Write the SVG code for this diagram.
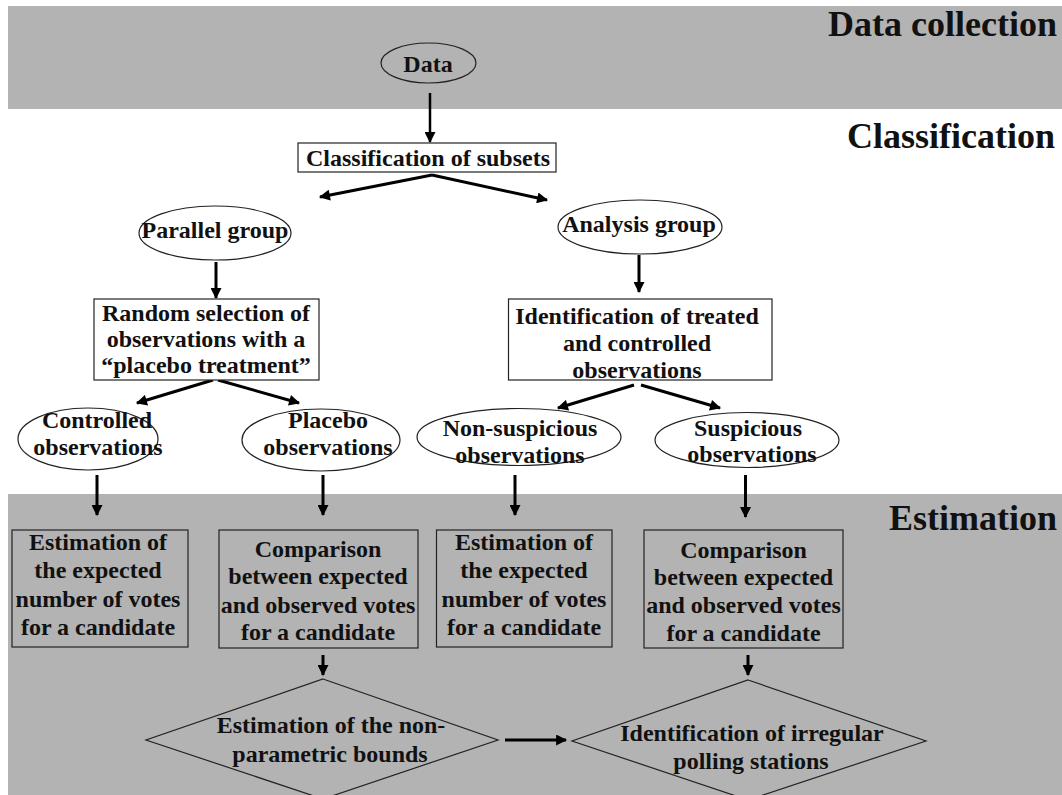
<svg xmlns="http://www.w3.org/2000/svg" width="1062" height="795" viewBox="0 0 1062 795">
<style>
  .band { fill: #b3b3b3; }
  .t { font-family: "Liberation Serif", "Times New Roman", serif; font-weight: bold; font-size: 24px; fill: #111; text-anchor: middle; }
  .h { font-family: "Liberation Serif", "Times New Roman", serif; font-weight: bold; font-size: 36px; fill: #111; text-anchor: end; }
  .box { fill: #ffffff; stroke: #222; stroke-width: 1.2; }
  .gbox { fill: none; stroke: #222; stroke-width: 1.2; }
  .ell { fill: #ffffff; stroke: #222; stroke-width: 1.2; }
  .dia { fill: none; stroke: #222; stroke-width: 1.2; }
  .c { stroke: #000; stroke-width: 3; fill: none; marker-end: url(#ah); }
</style>
<defs>
  <marker id="ah" viewBox="0 0 10 10" refX="9" refY="5" markerWidth="12" markerHeight="11" markerUnits="userSpaceOnUse" orient="auto">
    <path d="M0,0 L10,5 L0,10 z" fill="#000"/>
  </marker>
</defs>

<rect width="1062" height="795" fill="#ffffff"/>
<g id="bands">
  <rect class="band" x="8" y="6" width="1054" height="103"/>
  <rect class="band" x="8" y="494" width="1054" height="301"/>
</g>

<g id="headings">
  <text class="h" x="1057" y="36">Data collection</text>
  <text class="h" x="1055" y="148">Classification</text>
  <text class="h" x="1057" y="530">Estimation</text>
</g>

<g id="connectors">
  <line class="c" x1="430" y1="93" x2="430" y2="142" style="stroke-width:2.5"/>
  <line class="c" x1="432" y1="175" x2="320" y2="197"/>
  <line class="c" x1="432" y1="175" x2="547" y2="200"/>
  <line class="c" x1="216" y1="262" x2="216" y2="298"/>
  <line class="c" x1="639" y1="255" x2="639" y2="292"/>
  <line class="c" x1="213" y1="380" x2="137" y2="403"/>
  <line class="c" x1="218" y1="380" x2="299" y2="403"/>
  <line class="c" x1="634" y1="385" x2="558" y2="408"/>
  <line class="c" x1="641" y1="385" x2="720" y2="408"/>
  <line class="c" x1="97" y1="475" x2="97" y2="515"/>
  <line class="c" x1="323" y1="475" x2="323" y2="515"/>
  <line class="c" x1="515" y1="475" x2="515" y2="515"/>
  <line class="c" x1="745.5" y1="475" x2="745.5" y2="517"/>
  <line class="c" x1="323" y1="655" x2="323" y2="675"/>
  <line class="c" x1="748" y1="655" x2="748" y2="675"/>
  <line class="c" x1="505" y1="740" x2="566" y2="740"/>
</g>

<g id="data">
  <ellipse class="ell" cx="428.5" cy="63" rx="47.5" ry="20" style="fill:none"/>
  <text class="t" x="428" y="72">Data</text>
</g>

<g id="classification-of-subsets">
  <rect class="box" x="298" y="143" width="258" height="29"/>
  <text class="t" x="428" y="166">Classification of subsets</text>
</g>

<g id="parallel-group">
  <ellipse class="ell" cx="215" cy="233" rx="76" ry="27"/>
  <text class="t" x="215" y="238">Parallel group</text>
</g>

<g id="analysis-group">
  <ellipse class="ell" cx="640" cy="227" rx="82" ry="27"/>
  <text class="t" x="639" y="232">Analysis group</text>
</g>

<g id="random-selection">
  <rect class="box" x="94" y="299" width="225" height="81"/>
  <text class="t" x="206" y="321">Random selection of</text>
  <text class="t" x="206" y="347">observations with a</text>
  <text class="t" x="206" y="373">“placebo treatment”</text>
</g>

<g id="identification-treated">
  <rect class="box" x="508.5" y="299" width="263.5" height="81"/>
  <text class="t" x="637" y="324">Identification of treated</text>
  <text class="t" x="637" y="351">and controlled</text>
  <text class="t" x="637" y="378">observations</text>
</g>

<g id="controlled-observations">
  <ellipse class="ell" cx="88" cy="439" rx="70" ry="31"/>
  <text class="t" x="97" y="428">Controlled</text>
  <text class="t" x="98" y="455">observations</text>
</g>

<g id="placebo-observations">
  <ellipse class="ell" cx="321" cy="440" rx="79" ry="31"/>
  <text class="t" x="328" y="428">Placebo</text>
  <text class="t" x="328" y="455">observations</text>
</g>

<g id="non-suspicious-observations">
  <ellipse class="ell" cx="519" cy="437" rx="102" ry="28.5"/>
  <text class="t" x="520" y="436">Non-suspicious</text>
  <text class="t" x="520" y="463">observations</text>
</g>

<g id="suspicious-observations">
  <ellipse class="ell" cx="747" cy="440" rx="92" ry="27.5"/>
  <text class="t" x="748" y="436">Suspicious</text>
  <text class="t" x="752" y="462">observations</text>
</g>

<g id="estimation-controlled">
  <rect class="gbox" x="12" y="530" width="176" height="117"/>
  <text class="t" x="98" y="550">Estimation of</text>
  <text class="t" x="98" y="578">the expected</text>
  <text class="t" x="98" y="607">number of votes</text>
  <text class="t" x="98" y="635">for a candidate</text>
</g>

<g id="comparison-placebo">
  <rect class="gbox" x="219" y="530" width="199" height="118"/>
  <text class="t" x="318" y="557">Comparison</text>
  <text class="t" x="318" y="584">between expected</text>
  <text class="t" x="318" y="613">and observed votes</text>
  <text class="t" x="318" y="640">for a candidate</text>
</g>

<g id="estimation-non-suspicious">
  <rect class="gbox" x="436.5" y="530" width="175.5" height="117"/>
  <text class="t" x="524" y="550">Estimation of</text>
  <text class="t" x="524" y="578">the expected</text>
  <text class="t" x="524" y="607">number of votes</text>
  <text class="t" x="524" y="635">for a candidate</text>
</g>

<g id="comparison-suspicious">
  <rect class="gbox" x="644" y="530" width="199" height="118"/>
  <text class="t" x="743.5" y="558">Comparison</text>
  <text class="t" x="743.5" y="585">between expected</text>
  <text class="t" x="743.5" y="613">and observed votes</text>
  <text class="t" x="743.5" y="641">for a candidate</text>
</g>

<g id="nonparametric-bounds">
  <polygon class="dia" points="323,679 498,740 323,799 146,740"/>
  <text class="t" x="331" y="733">Estimation of the non-</text>
  <text class="t" x="330" y="762">parametric bounds</text>
</g>

<g id="irregular-stations">
  <polygon class="dia" points="748,680 926,741 748,800 572,741"/>
  <text class="t" x="752" y="741">Identification of irregular</text>
  <text class="t" x="751" y="769">polling stations</text>
</g>
</svg>
